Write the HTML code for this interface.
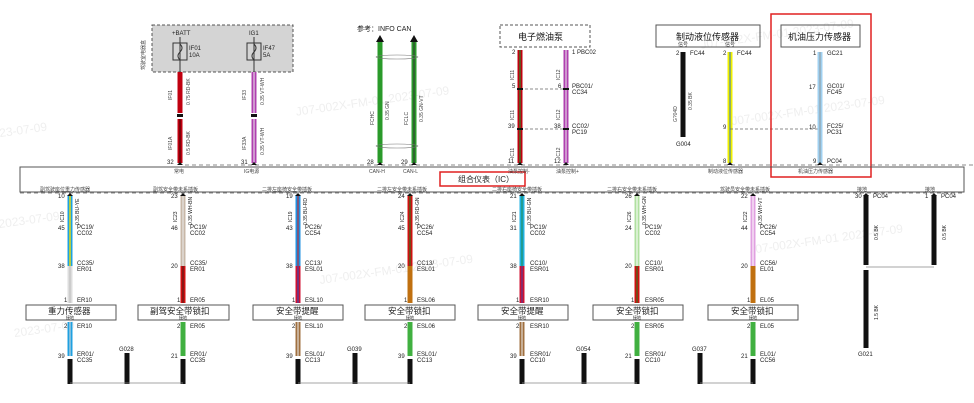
<!DOCTYPE html>
<html><head><meta charset="utf-8"><style>
html,body{margin:0;padding:0;background:#fff;overflow:hidden;width:974px;height:403px}
svg{display:block}
text{font-family:"Liberation Sans","Noto Sans CJK SC",sans-serif;fill:#222}
.s{font-size:6px}
.t{font-size:5px;fill:#444}
.b{font-size:9px;fill:#111}
.wm{font-size:12px;fill:#efefef}
</style></head><body>
<svg width="974" height="403" viewBox="0 0 974 403" xmlns="http://www.w3.org/2000/svg">
<g transform="rotate(-8 487 200)">
<text class="wm" x="0" y="70">2023-07-09</text>
<text class="wm" x="310" y="90">J07-002X-FM-01 2023-07-09</text>
<text class="wm" x="720" y="80">J07-002X-FM-01 2023-07-09</text>
<text class="wm" x="0" y="160">2023-07-09</text>
<text class="wm" x="740" y="160">J07-002X-FM-01 2023-07-09</text>
<text class="wm" x="0" y="270">2023-07-09</text>
<text class="wm" x="310" y="260">J07-002X-FM-01 2023-07-09</text>
<text class="wm" x="740" y="290">J07-002X-FM-01 2023-07-09</text>
</g>

<rect x="152" y="25" width="141" height="47" fill="#d4d4d4" stroke="#555" stroke-dasharray="3,2"/>
<text class="t" x="145" y="70" transform="rotate(-90 145 70)">驾驶室电器盒</text>
<text class="s" x="172" y="35">+BATT</text>
<text class="s" x="249" y="35">IG1</text>
<line x1="180" y1="37" x2="180" y2="72" stroke="#333"/>
<line x1="254" y1="37" x2="254" y2="72" stroke="#333"/>
<rect x="173" y="43" width="14" height="17" fill="none" stroke="#333"/>
<rect x="247" y="43" width="14" height="17" fill="none" stroke="#333"/>
<path d="M180 44 q4 4 0 8 q-4 4 0 8" fill="none" stroke="#333"/>
<path d="M254 44 q4 4 0 8 q-4 4 0 8" fill="none" stroke="#333"/>
<text class="s" x="189" y="50">IF01</text><text class="s" x="189" y="57">10A</text>
<text class="s" x="263" y="50">IF47</text><text class="s" x="263" y="57">5A</text>

<g stroke-linecap="butt">
<line x1="180" y1="72" x2="180" y2="113" stroke="#c00010" stroke-width="5"/>
<line x1="180" y1="119" x2="180" y2="163" stroke="#c00010" stroke-width="5"/>
<line x1="180" y1="119" x2="180" y2="163" stroke="#400" stroke-width="1"/>
<rect x="177" y="114" width="6" height="3" fill="#111"/>
<line x1="254" y1="72" x2="254" y2="113" stroke="#b040b0" stroke-width="5"/>
<line x1="254" y1="72" x2="254" y2="113" stroke="#eee" stroke-width="1"/>
<line x1="254" y1="119" x2="254" y2="163" stroke="#b040b0" stroke-width="5"/>
<line x1="254" y1="119" x2="254" y2="163" stroke="#eee" stroke-width="1"/>
<rect x="251" y="114" width="6" height="3" fill="#111"/>
</g>
<text class="t" x="172" y="100" transform="rotate(-90 172 100)">IF01</text>
<text class="t" x="190" y="105" transform="rotate(-90 190 105)">0.75 RD-BK</text>
<text class="t" x="172" y="150" transform="rotate(-90 172 150)">IF01A</text>
<text class="t" x="190" y="155" transform="rotate(-90 190 155)">0.5 RD-BK</text>
<text class="t" x="246" y="100" transform="rotate(-90 246 100)">IF33</text>
<text class="t" x="264" y="105" transform="rotate(-90 264 105)">0.35 VT-WH</text>
<text class="t" x="246" y="150" transform="rotate(-90 246 150)">IF33A</text>
<text class="t" x="264" y="155" transform="rotate(-90 264 155)">0.35 VT-WH</text>
<text class="s" x="167" y="164">32</text><text class="s" x="241" y="164">31</text>

<text class="s" x="357" y="31" style="font-size:7px">参考：INFO CAN</text>
<line x1="380" y1="42" x2="380" y2="163" stroke="#2a9a2a" stroke-width="5"/>
<line x1="414" y1="42" x2="414" y2="163" stroke="#2a9a2a" stroke-width="5"/>
<line x1="414" y1="42" x2="414" y2="163" stroke="#333" stroke-width="1"/>
<path d="M376 42 L380 35 L384 42Z M410 42 L414 35 L418 42Z" fill="#111"/>
<ellipse cx="397" cy="57" rx="21" ry="2" fill="none" stroke="#777" stroke-width="0.6"/>
<ellipse cx="397" cy="146" rx="21" ry="2" fill="none" stroke="#777" stroke-width="0.6"/>
<text class="t" x="374" y="125" transform="rotate(-90 374 125)">FCHC</text>
<text class="t" x="389" y="120" transform="rotate(-90 389 120)">0.35 GN</text>
<text class="t" x="408" y="125" transform="rotate(-90 408 125)">FCLC</text>
<text class="t" x="423" y="122" transform="rotate(-90 423 122)">0.35 GN-VT</text>
<text class="s" x="367" y="164">28</text><text class="s" x="401" y="164">29</text>

<rect x="500" y="25" width="90" height="22" fill="none" stroke="#555" stroke-dasharray="3,2"/>
<text class="b" x="518" y="40">电子燃油泵</text>
<line x1="520" y1="50" x2="520" y2="163" stroke="#c00010" stroke-width="5"/>
<line x1="520" y1="50" x2="520" y2="163" stroke="#2a8a2a" stroke-width="1.2"/>
<line x1="566" y1="50" x2="566" y2="163" stroke="#b040b0" stroke-width="5"/>
<line x1="566" y1="50" x2="566" y2="163" stroke="#eee" stroke-width="1"/>
<line x1="520" y1="89" x2="566" y2="89" stroke="#666" stroke-dasharray="3,2" stroke-width="0.7"/>
<line x1="520" y1="129" x2="566" y2="129" stroke="#666" stroke-dasharray="3,2" stroke-width="0.7"/>
<g fill="#111"><rect x="517" y="88" width="6" height="2"/><rect x="563" y="88" width="6" height="2"/><rect x="517" y="128" width="6" height="2"/><rect x="563" y="128" width="6" height="2"/></g>
<text class="s" x="512" y="54">2</text><text class="s" x="572" y="54">1 PBC02</text>
<text class="s" x="512" y="88">5</text><text class="s" x="558" y="88">6</text><text class="s" x="572" y="88">PBC01/</text><text class="s" x="572" y="94">CC34</text>
<text class="s" x="508" y="128">39</text><text class="s" x="554" y="128">38</text><text class="s" x="572" y="128">CC02/</text><text class="s" x="572" y="134">PC19</text>
<text class="s" x="508" y="163">11</text><text class="s" x="554" y="163">12</text>
<text class="t" x="514" y="80" transform="rotate(-90 514 80)">IC11</text><text class="t" x="560" y="80" transform="rotate(-90 560 80)">IC12</text>
<text class="t" x="514" y="120" transform="rotate(-90 514 120)">IC11</text><text class="t" x="560" y="120" transform="rotate(-90 560 120)">IC12</text>
<text class="t" x="514" y="158" transform="rotate(-90 514 158)">IC11</text><text class="t" x="560" y="158" transform="rotate(-90 560 158)">IC12</text>

<rect x="656" y="25" width="104" height="22" fill="none" stroke="#555"/>
<text class="b" x="676" y="40">制动液位传感器</text>
<text class="t" x="678" y="46">信号</text><text class="t" x="725" y="46">信号</text>
<line x1="683" y1="52" x2="683" y2="137" stroke="#111" stroke-width="5"/>
<text class="s" x="676" y="55">2</text><text class="s" x="690" y="55">FC44</text>
<text class="s" x="676" y="146">G004</text>
<line x1="730" y1="52" x2="730" y2="163" stroke="#f0f000" stroke-width="5"/>
<line x1="730" y1="52" x2="730" y2="163" stroke="#2a6ad0" stroke-width="1"/>
<text class="s" x="723" y="55">2</text><text class="s" x="737" y="55">FC44</text>
<text class="s" x="723" y="129">9</text><text class="s" x="723" y="163">8</text>
<line x1="730" y1="129" x2="820" y2="129" stroke="#666" stroke-dasharray="3,2" stroke-width="0.7"/>
<text class="t" x="677" y="122" transform="rotate(-90 677 122)">G?04D</text>
<text class="t" x="692" y="110" transform="rotate(-90 692 110)">0.35 BK</text>

<rect x="771" y="14" width="100" height="163" fill="none" stroke="#e02020" stroke-width="1.5"/>
<rect x="781" y="25" width="79" height="22" fill="none" stroke="#555"/>
<text class="b" x="788" y="40">机油压力传感器</text>
<line x1="820" y1="52" x2="820" y2="163" stroke="#a0d0f0" stroke-width="5"/>
<line x1="820" y1="52" x2="820" y2="163" stroke="#888" stroke-width="0.8"/>
<text class="s" x="813" y="55">1</text><text class="s" x="827" y="55">GC21</text>
<text class="s" x="809" y="89">17</text><text class="s" x="827" y="88">GC01/</text><text class="s" x="827" y="94">FC45</text>
<text class="s" x="809" y="129">10</text><text class="s" x="827" y="128">FC25/</text><text class="s" x="827" y="134">PC31</text>
<text class="s" x="813" y="163">9</text><text class="s" x="827" y="163">PC04</text>

<rect x="20" y="167" width="944" height="25" fill="none" stroke="#555"/>
<line x1="185" y1="165" x2="974" y2="165" stroke="#666" stroke-dasharray="4,3" stroke-width="0.8"/>
<line x1="20" y1="193" x2="964" y2="193" stroke="#666" stroke-dasharray="4,3" stroke-width="0.8"/>
<rect x="440" y="172" width="85" height="14" fill="#fff" stroke="#e02020" stroke-width="1.5"/>
<text class="s" x="458" y="182" style="font-size:8px">组合仪表（IC）</text>
<g class="t">
<text class="t" x="174" y="173">常电</text><text class="t" x="244" y="173">IG电源</text>
<text class="t" x="369" y="173">CAN-H</text><text class="t" x="403" y="173">CAN-L</text>
<text class="t" x="508" y="173">油泵控制-</text><text class="t" x="556" y="173">油泵控制+</text>
<text class="t" x="708" y="173">制动液位传感器</text><text class="t" x="798" y="173">机油压力传感器</text>
<text class="t" x="40" y="191">副驾驶座位重力传感器</text><text class="t" x="153" y="191">副驾安全带未系插板</text>
<text class="t" x="262" y="191">二排左座椅安全带插板</text><text class="t" x="377" y="191">二排左安全带未系插板</text>
<text class="t" x="492" y="191">二排右座椅安全带插板</text><text class="t" x="607" y="191">二排右安全带未系插板</text>
<text class="t" x="720" y="191">驾驶员安全带未系插板</text><text class="t" x="857" y="191">接地</text><text class="t" x="925" y="191">接地</text>
</g>

<line x1="70" y1="195" x2="70" y2="266" stroke="#20a0e0" stroke-width="5"/><line x1="70" y1="195" x2="70" y2="266" stroke="#f0e000" stroke-width="1.4"/>
<line x1="70" y1="266" x2="70" y2="303" stroke="#ddd" stroke-width="5"/><line x1="70" y1="266" x2="70" y2="303" stroke="#999" stroke-width="0.5"/>
<line x1="70" y1="322" x2="70" y2="356" stroke="#20a0e0" stroke-width="5"/><line x1="70" y1="322" x2="70" y2="356" stroke="#ddd" stroke-width="1"/>
<line x1="183" y1="195" x2="183" y2="266" stroke="#c8b8a8" stroke-width="5"/><line x1="183" y1="195" x2="183" y2="266" stroke="#eee" stroke-width="1"/>
<line x1="183" y1="266" x2="183" y2="303" stroke="#d01010" stroke-width="5"/><line x1="183" y1="266" x2="183" y2="303" stroke="#222" stroke-width="0.8"/>
<line x1="183" y1="322" x2="183" y2="356" stroke="#40b040" stroke-width="5"/>
<line x1="298" y1="195" x2="298" y2="266" stroke="#2090e0" stroke-width="5"/><line x1="298" y1="195" x2="298" y2="266" stroke="#d02020" stroke-width="1"/>
<line x1="298" y1="266" x2="298" y2="303" stroke="#d01030" stroke-width="5"/><line x1="298" y1="266" x2="298" y2="303" stroke="#2050c0" stroke-width="1"/>
<line x1="298" y1="322" x2="298" y2="356" stroke="#a07040" stroke-width="5"/><line x1="298" y1="322" x2="298" y2="356" stroke="#eee" stroke-width="1"/>
<line x1="410" y1="195" x2="410" y2="266" stroke="#d01010" stroke-width="5"/><line x1="410" y1="195" x2="410" y2="266" stroke="#208020" stroke-width="1"/>
<line x1="410" y1="266" x2="410" y2="303" stroke="#c07010" stroke-width="5"/>
<line x1="410" y1="322" x2="410" y2="356" stroke="#40b040" stroke-width="5"/>
<line x1="522" y1="195" x2="522" y2="266" stroke="#20b0e0" stroke-width="5"/><line x1="522" y1="195" x2="522" y2="266" stroke="#208020" stroke-width="0.8"/>
<line x1="522" y1="266" x2="522" y2="303" stroke="#d01030" stroke-width="5"/><line x1="522" y1="266" x2="522" y2="303" stroke="#2050c0" stroke-width="0.8"/>
<line x1="522" y1="322" x2="522" y2="356" stroke="#a07040" stroke-width="5"/><line x1="522" y1="322" x2="522" y2="356" stroke="#eee" stroke-width="1"/>
<line x1="637" y1="195" x2="637" y2="266" stroke="#b0e0a0" stroke-width="5"/><line x1="637" y1="195" x2="637" y2="266" stroke="#fff" stroke-width="1"/>
<line x1="637" y1="266" x2="637" y2="303" stroke="#d01010" stroke-width="5"/><line x1="637" y1="266" x2="637" y2="303" stroke="#208020" stroke-width="1"/>
<line x1="637" y1="322" x2="637" y2="356" stroke="#40b040" stroke-width="5"/>
<line x1="753" y1="195" x2="753" y2="266" stroke="#e0a0e0" stroke-width="5"/><line x1="753" y1="195" x2="753" y2="266" stroke="#fff" stroke-width="1"/>
<line x1="753" y1="266" x2="753" y2="303" stroke="#c07010" stroke-width="5"/>
<line x1="753" y1="322" x2="753" y2="356" stroke="#40b040" stroke-width="5"/>
<g stroke="#111" stroke-width="5">
<line x1="70" y1="359" x2="70" y2="384"/><line x1="183" y1="359" x2="183" y2="384"/><line x1="298" y1="359" x2="298" y2="384"/><line x1="410" y1="359" x2="410" y2="384"/>
<line x1="522" y1="359" x2="522" y2="384"/><line x1="637" y1="359" x2="637" y2="384"/><line x1="753" y1="359" x2="753" y2="384"/>
<line x1="127" y1="353" x2="127" y2="384"/><line x1="355" y1="353" x2="355" y2="384"/><line x1="584" y1="353" x2="584" y2="384"/><line x1="700" y1="353" x2="700" y2="384"/>
<line x1="866" y1="195" x2="866" y2="265"/><line x1="934" y1="195" x2="934" y2="265"/><line x1="866" y1="270" x2="866" y2="348"/>
</g>
<g stroke="#888" stroke-width="0.8">
<line x1="70" y1="383" x2="183" y2="383"/><line x1="298" y1="383" x2="410" y2="383"/><line x1="522" y1="383" x2="637" y2="383"/><line x1="700" y1="383" x2="753" y2="383"/>
<line x1="866" y1="267" x2="934" y2="267"/>
</g>
<g fill="#fff" stroke="#555">
<rect x="26" y="305" width="90" height="15"/><rect x="138" y="305" width="91" height="15"/><rect x="253" y="305" width="90" height="15"/><rect x="365" y="305" width="90" height="15"/>
<rect x="478" y="305" width="90" height="15"/><rect x="593" y="305" width="90" height="15"/><rect x="708" y="305" width="90" height="15"/>
</g>
<g class="b" style="font-size:8.5px">
<text x="48" y="314">重力传感器</text><text x="150" y="314">副驾安全带锁扣</text><text x="276" y="314">安全带提醒</text><text x="388" y="314">安全带锁扣</text>
<text x="501" y="314">安全带提醒</text><text x="616" y="314">安全带锁扣</text><text x="731" y="314">安全带锁扣</text>
</g>
<g class="t" style="font-size:4px">
<text x="66" y="319">接地</text><text x="179" y="319">接地</text><text x="294" y="319">接地</text><text x="406" y="319">接地</text><text x="518" y="319">接地</text><text x="633" y="319">接地</text><text x="749" y="319">接地</text>
</g>
<g class="s">
<text x="58" y="198">10</text><text x="171" y="198">23</text><text x="286" y="198">19</text><text x="398" y="198">24</text><text x="510" y="198">21</text><text x="625" y="198">26</text><text x="741" y="198">22</text>
<text x="58" y="230">45</text><text x="171" y="230">46</text><text x="286" y="230">43</text><text x="398" y="230">45</text><text x="510" y="230">31</text><text x="625" y="230">24</text><text x="741" y="230">44</text>
<text x="77" y="229">PC19/</text><text x="77" y="235">CC02</text><text x="190" y="229">PC19/</text><text x="190" y="235">CC02</text>
<text x="305" y="229">PC26/</text><text x="305" y="235">CC54</text><text x="417" y="229">PC26/</text><text x="417" y="235">CC54</text>
<text x="530" y="229">PC19/</text><text x="530" y="235">CC02</text><text x="645" y="229">PC19/</text><text x="645" y="235">CC02</text>
<text x="760" y="229">PC26/</text><text x="760" y="235">CC54</text>
<text x="58" y="268">38</text><text x="171" y="268">20</text><text x="286" y="268">38</text><text x="398" y="268">20</text><text x="510" y="268">38</text><text x="625" y="268">20</text><text x="741" y="268">20</text>
<text x="77" y="265">CC35/</text><text x="77" y="271">ER01</text><text x="190" y="265">CC35/</text><text x="190" y="271">ER01</text>
<text x="305" y="265">CC13/</text><text x="305" y="271">ESL01</text><text x="417" y="265">CC13/</text><text x="417" y="271">ESL01</text>
<text x="530" y="265">CC10/</text><text x="530" y="271">ESR01</text><text x="645" y="265">CC10/</text><text x="645" y="271">ESR01</text>
<text x="760" y="265">CC56/</text><text x="760" y="271">EL01</text>
<text x="64" y="302">1</text><text x="77" y="302">ER10</text><text x="177" y="302">1</text><text x="190" y="302">ER05</text>
<text x="292" y="302">1</text><text x="305" y="302">ESL10</text><text x="404" y="302">1</text><text x="417" y="302">ESL06</text>
<text x="516" y="302">1</text><text x="530" y="302">ESR10</text><text x="631" y="302">1</text><text x="645" y="302">ESR05</text>
<text x="747" y="302">1</text><text x="760" y="302">EL05</text>
<text x="64" y="328">2</text><text x="77" y="328">ER10</text><text x="177" y="328">2</text><text x="190" y="328">ER05</text>
<text x="292" y="328">2</text><text x="305" y="328">ESL10</text><text x="404" y="328">2</text><text x="417" y="328">ESL06</text>
<text x="516" y="328">2</text><text x="530" y="328">ESR10</text><text x="631" y="328">2</text><text x="645" y="328">ESR05</text>
<text x="747" y="328">2</text><text x="760" y="328">EL05</text>
<text x="58" y="358">39</text><text x="171" y="358">21</text><text x="286" y="358">39</text><text x="398" y="358">39</text><text x="510" y="358">39</text><text x="625" y="358">21</text><text x="741" y="358">21</text>
<text x="77" y="356">ER01/</text><text x="77" y="362">CC35</text><text x="190" y="356">ER01/</text><text x="190" y="362">CC35</text>
<text x="305" y="356">ESL01/</text><text x="305" y="362">CC13</text><text x="417" y="356">ESL01/</text><text x="417" y="362">CC13</text>
<text x="530" y="356">ESR01/</text><text x="530" y="362">CC10</text><text x="645" y="356">ESR01/</text><text x="645" y="362">CC10</text>
<text x="760" y="356">EL01/</text><text x="760" y="362">CC56</text>
<text x="119" y="351">G028</text><text x="347" y="351">G039</text><text x="576" y="351">G054</text><text x="692" y="351">G037</text>
<text x="855" y="198">30</text><text x="873" y="198">PC04</text><text x="925" y="198">1</text><text x="941" y="198">PC04</text>
<text x="858" y="356">G021</text>
</g>
<g class="t">
<text x="64" y="222" transform="rotate(-90 64 222)">IC10</text><text x="79" y="225" transform="rotate(-90 79 225)">0.35 BU-YE</text>
<text x="177" y="222" transform="rotate(-90 177 222)">IC23</text><text x="192" y="225" transform="rotate(-90 192 225)">0.35 WH-BN</text>
<text x="292" y="222" transform="rotate(-90 292 222)">IC19</text><text x="307" y="225" transform="rotate(-90 307 225)">0.35 BU-RD</text>
<text x="404" y="222" transform="rotate(-90 404 222)">IC24</text><text x="419" y="225" transform="rotate(-90 419 225)">0.35 RD-GN</text>
<text x="516" y="222" transform="rotate(-90 516 222)">IC21</text><text x="531" y="225" transform="rotate(-90 531 225)">0.35 BU-GN</text>
<text x="631" y="222" transform="rotate(-90 631 222)">IC26</text><text x="646" y="225" transform="rotate(-90 646 225)">0.35 WH-GN</text>
<text x="747" y="222" transform="rotate(-90 747 222)">IC22</text><text x="762" y="225" transform="rotate(-90 762 225)">0.35 WH-VT</text>
<text x="878" y="240" transform="rotate(-90 878 240)">0.5 BK</text><text x="946" y="240" transform="rotate(-90 946 240)">0.5 BK</text>
<text x="878" y="320" transform="rotate(-90 878 320)">1.5 BK</text>
</g>
<g fill="#111">
<path d="M177 165 l3 -3 l3 3z M251 165 l3 -3 l3 3z M377 165 l3 -3 l3 3z M411 165 l3 -3 l3 3z M517 165 l3 -3 l3 3z M563 165 l3 -3 l3 3z M727 165 l3 -3 l3 3z M817 165 l3 -3 l3 3z"/>
<path d="M67 196 l3 -3 l3 3z M180 196 l3 -3 l3 3z M295 196 l3 -3 l3 3z M407 196 l3 -3 l3 3z M519 196 l3 -3 l3 3z M634 196 l3 -3 l3 3z M750 196 l3 -3 l3 3z M863 196 l3 -3 l3 3z M931 196 l3 -3 l3 3z"/>
</g>
</svg>
</body></html>
